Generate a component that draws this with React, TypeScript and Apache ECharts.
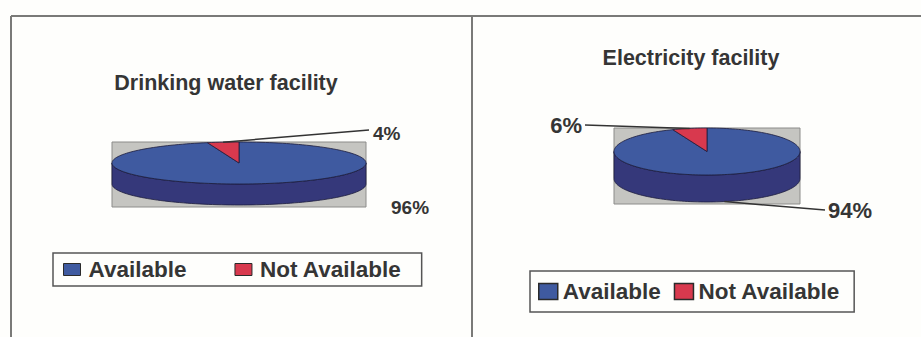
import React, { useEffect, useRef } from "react";
import * as echarts from "echarts";

// ---- data ----
const CATEGORIES = ["Available", "Not Available"];
const WATER_VALUES = [96, 4];
const ELECTRICITY_VALUES = [94, 6];
const CHART_TITLES = ["Drinking water facility", "Electricity facility"];

const FONT = "'Liberation Sans', Arial, Helvetica, sans-serif";
const TEXT_COLOR = "#353535";
const TOP_COLORS = ["#3f5aa0", "#d8394e"];
const SIDE_COLORS = ["#35387a", "#a52a3b"];
const EDGE = "#1c1c3c";

// ---- layout (positions only) ----
type LabelLayout = { x: number; y: number; align: "left" | "right"; leader: number[] | null; edge: "top" | "bottom" };
const PIE_LAYOUTS: {
  cx: number; cy: number; rx: number; ry: number; depth: number;
  titleX: number; titleY: number; labelSize: number; labels: LabelLayout[];
}[] = [
  {
    cx: 239, cy: 163, rx: 127, ry: 21, depth: 21, titleX: 226, titleY: 70, labelSize: 19,
    labels: [
      { x: 391, y: 207, align: "left", leader: null, edge: "bottom" },
      { x: 373, y: 133, align: "left", leader: [369, 130], edge: "top" },
    ],
  },
  {
    cx: 707, cy: 151.5, rx: 93, ry: 23.5, depth: 27, titleX: 691, titleY: 45, labelSize: 22,
    labels: [
      { x: 828, y: 210, align: "left", leader: [825, 210], edge: "bottom" },
      { x: 582, y: 125, align: "right", leader: [585, 125], edge: "top" },
    ],
  },
];

const PIE_VALUES = [WATER_VALUES, ELECTRICITY_VALUES];

function makeRenderItem(pieIdx: number, itemIdx: number) {
  return (params: any, api: any) => {
    const L = PIE_LAYOUTS[pieIdx];
    const vals = PIE_VALUES[pieIdx];
    const total = vals.reduce((s, v) => s + v, 0);
    const before = vals.slice(0, itemIdx).reduce((s, v) => s + v, 0);
    const v = api.value(0);
    const a0 = (before / total) * 360;
    const a1 = ((before + v) / total) * 360;
    const pt = (deg: number, dy = 0) => {
      const r = (deg * Math.PI) / 180;
      return [L.cx + L.rx * Math.sin(r), L.cy - L.ry * Math.cos(r) + dy];
    };
    const arc = (s: number, e: number, dy = 0) => {
      const pts: number[][] = [];
      const n = Math.max(2, Math.ceil(Math.abs(e - s) / 2));
      for (let k = 0; k <= n; k++) pts.push(pt(s + ((e - s) * k) / n, dy));
      return pts;
    };
    const children: any[] = [];
    // visible side (front half: 90..270 deg clockwise from top)
    const s = Math.max(a0, 90);
    const e = Math.min(a1, 270);
    if (e > s) {
      const top = arc(s, e, 0);
      const bottom = arc(e, s, L.depth);
      children.push({
        type: "polygon",
        shape: { points: top.concat(bottom) },
        style: { fill: SIDE_COLORS[itemIdx], stroke: EDGE, lineWidth: 0.8 },
      });
    }
    // top face
    children.push({
      type: "polygon",
      shape: { points: [[L.cx, L.cy]].concat(arc(a0, a1, 0)) },
      style: { fill: api.visual("color"), stroke: EDGE, lineWidth: 0.8 },
    });
    // label + leader
    const lab = L.labels[itemIdx];
    const mid = (a0 + a1) / 2;
    if (lab.leader) {
      const anchor = lab.edge === "top" ? pt(mid, 0) : pt(mid, L.depth);
      children.push({
        type: "polyline",
        shape: { points: [anchor, lab.leader] },
        style: { stroke: "#333333", lineWidth: 1.5, fill: null },
      });
    }
    children.push({
      type: "text",
      x: lab.x,
      y: lab.y,
      style: {
        text: `${v}%`,
        fill: TEXT_COLOR,
        font: `bold ${L.labelSize}px ${FONT}`,
        textAlign: lab.align,
        textVerticalAlign: "middle",
        verticalAlign: "middle",
      },
    });
    return { type: "group", children };
  };
}

export default function App() {
  const ref = useRef<HTMLDivElement>(null);
  useEffect(() => {
    if (!ref.current) return;
    const chart = echarts.init(ref.current, null, { renderer: "svg" });

    const series: any[] = [];
    PIE_VALUES.forEach((vals, p) => {
      CATEGORIES.forEach((name, i) => {
        series.push({
          type: "custom",
          name,
          coordinateSystem: "none",
          itemStyle: { color: TOP_COLORS[i] },
          data: [[vals[i]]],
          renderItem: makeRenderItem(p, i),
          silent: true,
          z: 2,
        });
      });
    });

    const graphics: any[] = [
      { type: "line", shape: { x1: 11, y1: 16, x2: 921, y2: 16 }, style: { stroke: "#7a7a78", lineWidth: 2 }, z: 0 },
      { type: "line", shape: { x1: 11, y1: 16, x2: 11, y2: 337 }, style: { stroke: "#7a7a78", lineWidth: 2 }, z: 0 },
      { type: "line", shape: { x1: 472, y1: 16, x2: 472, y2: 337 }, style: { stroke: "#7a7a78", lineWidth: 2 }, z: 0 },
    ];
    PIE_LAYOUTS.forEach((L) => {
      graphics.push({
        type: "rect",
        shape: { x: L.cx - L.rx, y: L.cy - L.ry, width: 2 * L.rx, height: 2 * L.ry + L.depth + 2 },
        style: { fill: "#c5c5c1", stroke: "#8c8c8a", lineWidth: 1 },
        z: 0,
      });
    });

    chart.setOption({
      animation: false,
      backgroundColor: "#fefefc",
      title: PIE_LAYOUTS.map((L, p) => ({
        text: CHART_TITLES[p],
        left: L.titleX,
        top: L.titleY,
        textAlign: "center",
        padding: 0,
        textStyle: { fontFamily: FONT, fontWeight: "bold", fontSize: 21.5, color: TEXT_COLOR, lineHeight: 25 },
      })),
      legend: [
        {
          data: CATEGORIES,
          left: 53,
          top: 253,
          icon: "rect",
          itemWidth: 17,
          itemHeight: 12,
          itemGap: 48,
          padding: [4, 20, 4, 10],
          borderColor: "#555",
          borderWidth: 1.5,
          selectedMode: false,
          itemStyle: { borderColor: "#2a2a2a", borderWidth: 1 },
          textStyle: { fontFamily: FONT, fontWeight: "bold", fontSize: 22.5, color: TEXT_COLOR, lineHeight: 25, padding: [0, 0, 0, 3] },
        },
        {
          data: CATEGORIES,
          left: 530,
          top: 271,
          icon: "rect",
          itemWidth: 19,
          itemHeight: 16,
          itemGap: 13,
          padding: [8, 14, 8, 8],
          borderColor: "#555",
          borderWidth: 1.5,
          selectedMode: false,
          itemStyle: { borderColor: "#2a2a2a", borderWidth: 1.5 },
          textStyle: { fontFamily: FONT, fontWeight: "bold", fontSize: 22.5, color: TEXT_COLOR, lineHeight: 25 },
        },
      ],
      graphic: graphics,
      series,
    });
    return () => chart.dispose();
  }, []);
  return (
    <div
      ref={ref}
      style={{ position: "absolute", left: 0, top: 0, width: 921, height: 337 }}
    />
  );
}
